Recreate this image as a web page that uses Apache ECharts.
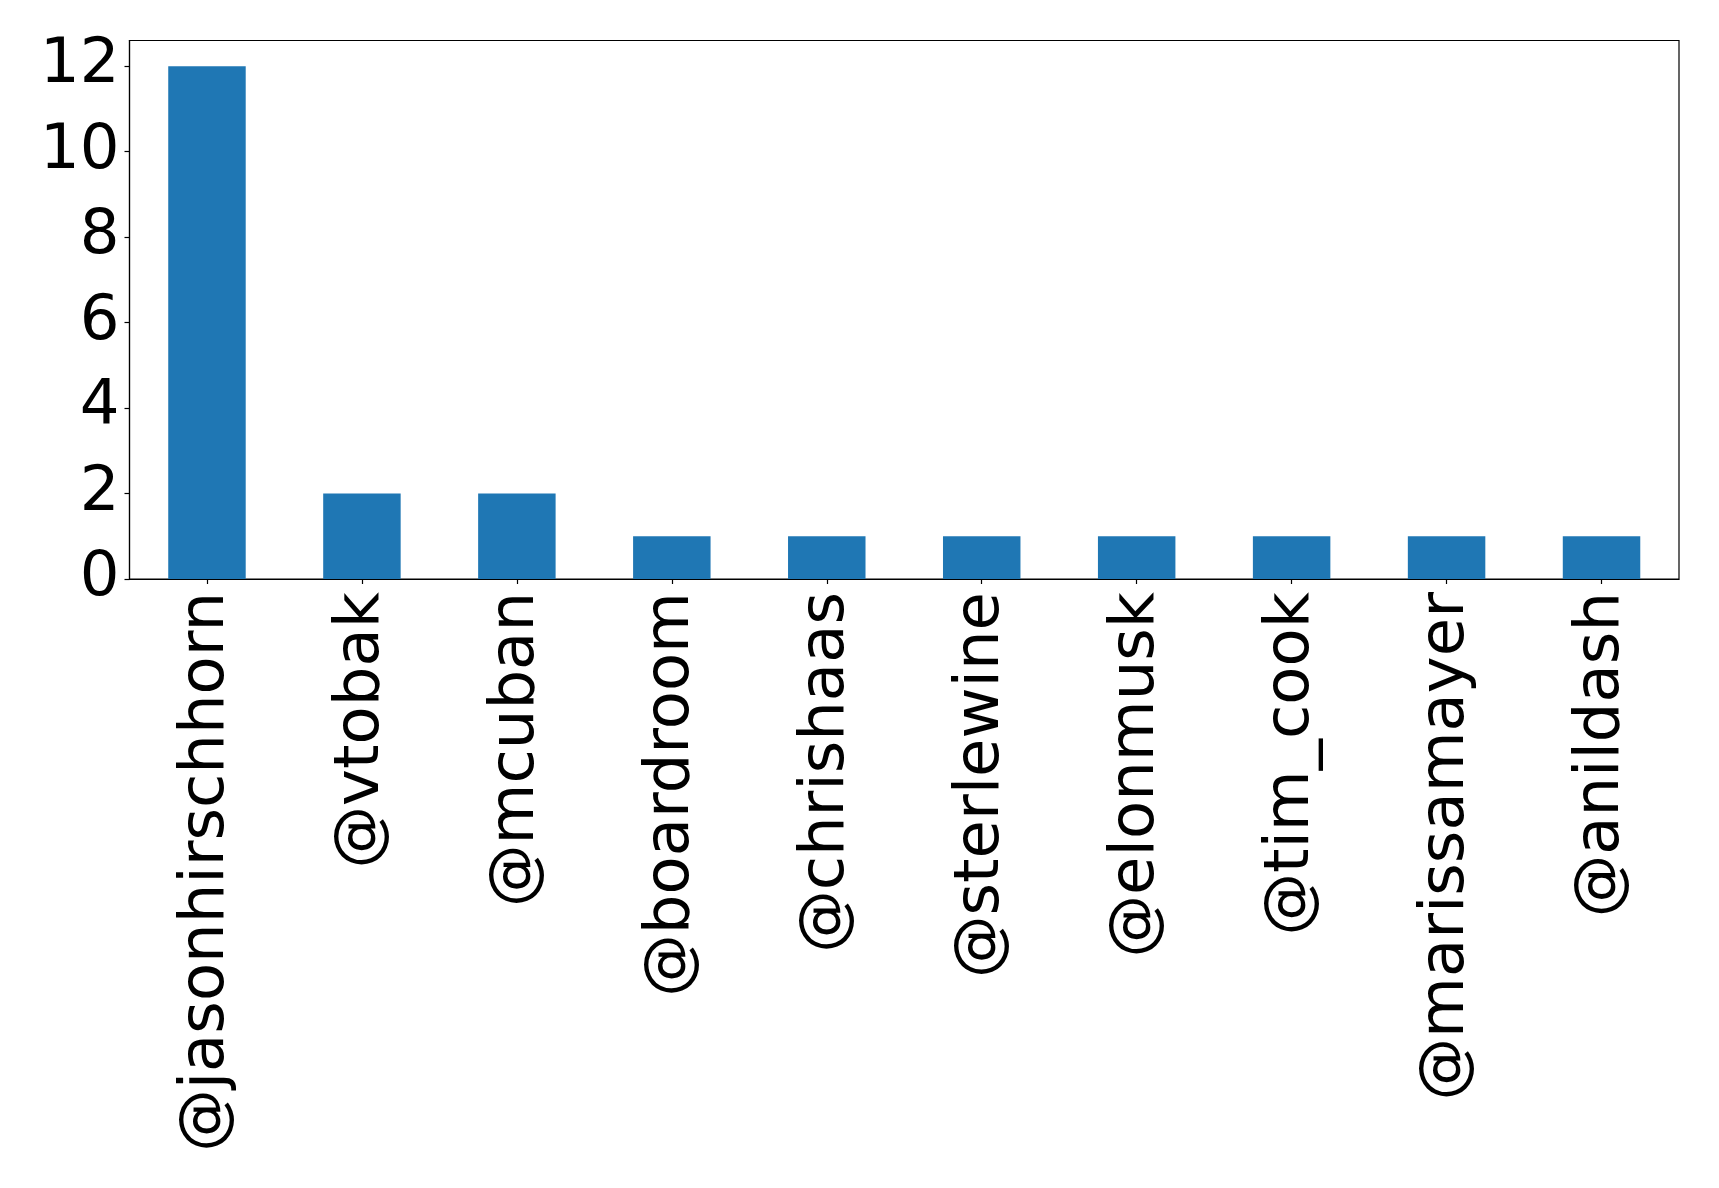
<!DOCTYPE html>
<html>
<head>
<meta charset="utf-8">
<script src="https://cdn.jsdelivr.net/npm/echarts@6/dist/echarts.min.js"></script>
<style>html,body{margin:0;padding:0;background:#fff}#c{width:1719px;height:1188px}</style>
</head>
<body>
<div id="c"></div>
<script>
var categories = ['@jasonhirschhorn','@vtobak','@mcuban','@boardroom','@chrishaas','@sterlewine','@elonmusk','@tim_cook','@marissamayer','@anildash'];
var counts = [12, 2, 2, 1, 1, 1, 1, 1, 1, 1];
var yTicks = [0, 2, 4, 6, 8, 10, 12];

var chart = echarts.init(document.getElementById('c'), null, {renderer: 'canvas'});
var font = 'DejaVu Sans';
chart.setOption({
  animation: false,
  grid: {left: 129.5, right: 40, top: 40.5, bottom: 609, show: true, borderColor: '#000', borderWidth: 1.2, backgroundColor: 'transparent'},
  xAxis: {
    type: 'category',
    data: categories,
    boundaryGap: true,
    axisLine: {show: true, lineStyle: {color: '#000', width: 1.2}},
    axisTick: {show: true, alignWithLabel: true, length: 5, lineStyle: {color: '#000', width: 1.2}},
    axisLabel: {rotate: 90, margin: 13, fontSize: 62.5, fontFamily: font, color: '#000', interval: 0},
    splitLine: {show: false}
  },
  yAxis: {
    type: 'value',
    min: 0,
    max: 12.6,
    interval: 2,
    axisLine: {show: true, lineStyle: {color: '#000', width: 1.2}},
    axisTick: {show: true, length: 5, lineStyle: {color: '#000', width: 1.2}, customValues: yTicks},
    axisLabel: {margin: 10, fontSize: 62.5, fontFamily: font, color: '#000', customValues: yTicks},
    splitLine: {show: false}
  },
  series: [{
    type: 'bar',
    data: counts,
    barWidth: '50%',
    itemStyle: {color: '#1f77b4'}
  }]
});
</script>
</body>
</html>
